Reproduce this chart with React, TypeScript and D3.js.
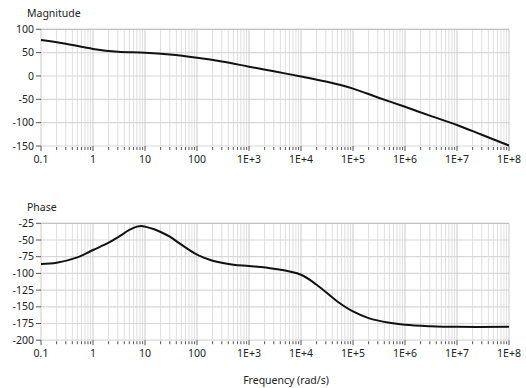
import React from 'react';
import * as d3 from 'd3';

const W = 526;
const H = 388;

// Bode plot data
const magFreq = [0.1, 0.3, 1, 3, 10, 30, 100, 300, 1e3, 3e3, 1e4, 3e4, 1e5, 3e5, 1e6, 3e6, 1e7, 3e7, 1e8];
const magValue = [77, 69, 58, 52, 50, 46, 39, 31, 20, 10, -1, -12, -27, -46, -66, -85, -105, -126, -149];

const phaseFreq = [0.1, 0.2, 0.5, 1, 2, 3, 5, 7, 8.5, 10, 15, 20, 30, 50, 100, 200, 500, 1e3, 3e3, 1e4, 2e4, 5e4, 1e5, 2e5, 5e5, 1e6, 3e6, 1e7, 1e8];
const phaseValue = [-86, -84, -76, -65, -54, -46, -35, -30, -29, -30, -34, -38, -45, -57, -72, -81, -87, -89, -93, -102, -117, -142, -157, -167, -174, -177, -179, -180, -180];

const freqTicks = [0.1, 1, 10, 100, 1e3, 1e4, 1e5, 1e6, 1e7, 1e8];
const freqTickLabels = ['0.1', '1', '10', '100', '1E+3', '1E+4', '1E+5', '1E+6', '1E+7', '1E+8'];
const magTicks = [100, 50, 0, -50, -100, -150];
const phaseTicks = [-25, -50, -75, -100, -125, -150, -175, -200];

const font = '"Noto Sans", "Open Sans", sans-serif';
const plotLeft = 41;
const plotRight = 509;

const x = d3.scaleLog().domain([0.1, 1e8]).range([plotLeft, plotRight]);

// minor positions 2..9 in every decade
const minor: number[] = [];
d3.range(-1, 8).forEach(e => {
    d3.range(2, 10).forEach(m => minor.push(m * Math.pow(10, e)));
});

type PanelProps = {
    title: string;
    top: number;
    bottom: number;
    domain: [number, number];
    ticks: number[];
    freq: number[];
    values: number[];
};

function Panel({ title, top, bottom, domain, ticks, freq, values }: PanelProps) {
    const y = d3.scaleLinear().domain(domain).range([bottom, top]);
    const line = d3.line<number>()
        .x((_, i) => x(freq[i]))
        .y(d => y(d))
        .curve(d3.curveCatmullRom.alpha(0.5));

    return (
        <g>
            <text x={27} y={top - 12} fontSize={10.5} fill="#222" fontFamily={font}>{title}</text>
            {minor.map(f => (
                <line key={'mg' + f} x1={x(f)} x2={x(f)} y1={top} y2={bottom} stroke="#dedede" strokeWidth={1} />
            ))}
            {ticks.map(t => (
                <line key={'hg' + t} x1={plotLeft} x2={plotRight} y1={y(t)} y2={y(t)} stroke="#d8d8d8" strokeWidth={1.2} />
            ))}
            {freqTicks.map(f => (
                <line key={'vg' + f} x1={x(f)} x2={x(f)} y1={top} y2={bottom} stroke="#cccccc" strokeWidth={1} />
            ))}
            <line x1={plotLeft} x2={plotRight} y1={top} y2={top} stroke="#bdbdbd" />
            {/* y axis ticks */}
            {ticks.map(t => (
                <g key={'yt' + t}>
                    <line x1={plotLeft - 5} x2={plotLeft} y1={y(t)} y2={y(t)} stroke="#555" />
                    <text x={plotLeft - 7} y={y(t)} dy="0.35em" textAnchor="end" fontSize={10.5} fill="#222" fontFamily={font}>{t}</text>
                </g>
            ))}
            {/* x axis ticks */}
            {minor.map(f => (
                <line key={'mt' + f} x1={x(f)} x2={x(f)} y1={bottom + 1} y2={bottom + 4} stroke="#555" />
            ))}
            {freqTicks.map((f, i) => (
                <g key={'xt' + f}>
                    <line x1={x(f)} x2={x(f)} y1={bottom} y2={bottom + 5} stroke="#555" />
                    <text x={x(f)} y={bottom + 13} dy="0.35em" textAnchor="middle" fontSize={10.5} fill="#222" fontFamily={font}>{freqTickLabels[i]}</text>
                </g>
            ))}
            <path d={line(values) || ''} fill="none" stroke="#111" strokeWidth={2} />
        </g>
    );
}

export default function App() {
    return (
        <div style={{ position: 'absolute', left: 0, top: 0, width: W, height: H, background: '#fff' }}>
            <svg width={W} height={H}>
                <rect width={W} height={H} fill="#fff" />
                <Panel title="Magnitude" top={29.3} bottom={146} domain={[-150, 100]} ticks={magTicks}
                    freq={magFreq} values={magValue} />
                <Panel title="Phase" top={223.3} bottom={340.2} domain={[-200, -25]} ticks={phaseTicks}
                    freq={phaseFreq} values={phaseValue} />
                <text x={286} y={380} dy="0.35em" textAnchor="middle" fontSize={10.5} fill="#222" fontFamily={font}>Frequency (rad/s)</text>
            </svg>
        </div>
    );
}
